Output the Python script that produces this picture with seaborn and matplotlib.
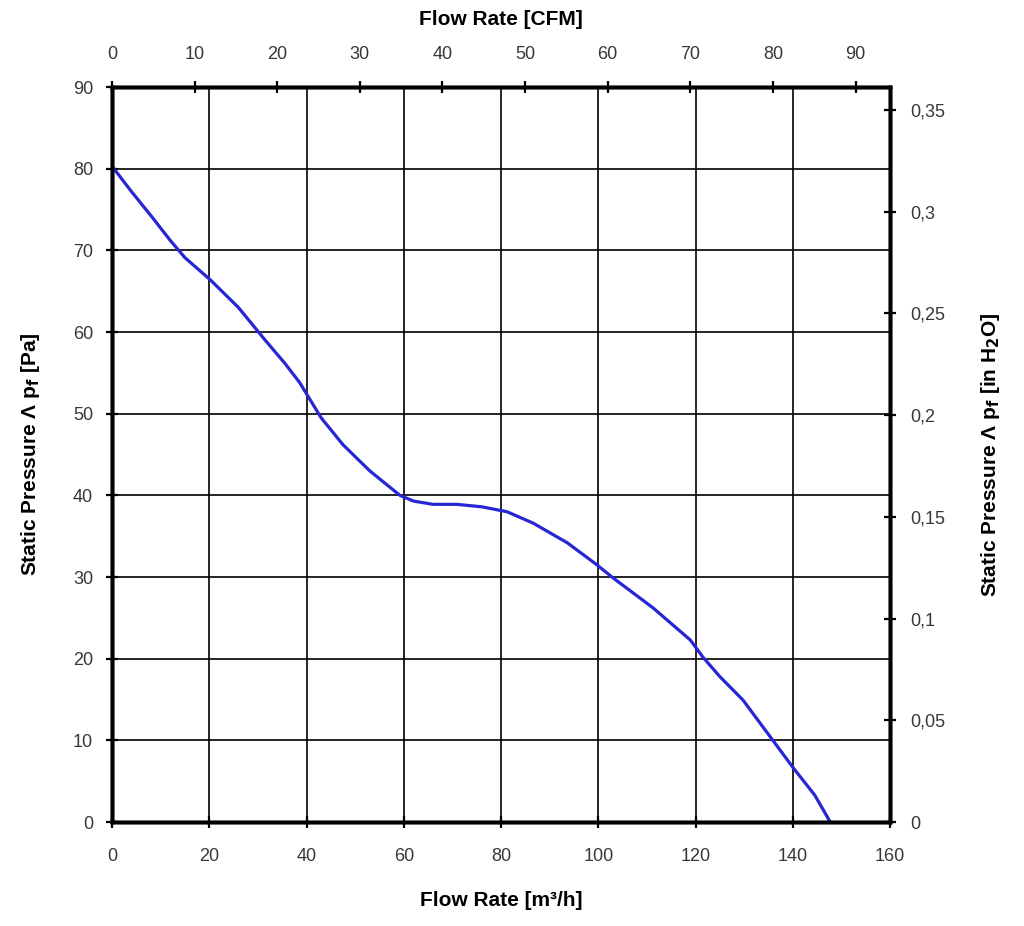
"""Fan curve: static pressure vs flow rate, with CFM / inH2O secondary axes."""

import matplotlib
matplotlib.use("Agg")
import matplotlib.pyplot as plt
import numpy as np
import pandas as pd
import seaborn as sns

# Curve (m3/h, Pa)
FLOW_M3H = [0, 4.0, 8.2, 12.0, 15.0, 20.2, 26.0, 31.5, 35.5, 38.6, 43.0, 47.5, 53.0,
            59.2, 62.0, 66.0, 70.9, 76.0, 81.2, 86.6, 93.6, 99.7, 102.8, 111.3,
            118.9, 121.5, 125.0, 129.8, 135.9, 140.0, 144.5, 147.7]
PRESSURE_PA = [80.3, 77.2, 74.1, 71.2, 69.1, 66.4, 63.0, 59.0, 56.2, 53.8, 49.5, 46.2,
               43.0, 40.0, 39.3, 38.9, 38.9, 38.6, 38.0, 36.6, 34.2, 31.5, 30.0, 26.2,
               22.3, 20.2, 17.8, 14.9, 10.0, 6.7, 3.3, 0.0]

X_TICKS = list(range(0, 161, 20))
Y_TICKS = list(range(0, 91, 10))
CFM_TICKS = list(range(0, 91, 10))
INH2O_TICKS = [0, 0.05, 0.1, 0.15, 0.2, 0.25, 0.3, 0.35]

M3H_PER_CFM = 1.69901
PA_PER_INH2O = 249.089

LINE_COLOR = "#2626d4"
TICK_TEXT = "#383838"

sns.set_style("ticks")
plt.rcParams["font.family"] = ["Liberation Sans", "DejaVu Sans"]
plt.rcParams["text.color"] = "black"
plt.rcParams["axes.labelcolor"] = "black"
plt.rcParams["xtick.color"] = "black"
plt.rcParams["ytick.color"] = "black"
plt.rcParams["axes.edgecolor"] = "black"

df = pd.DataFrame({"flow": FLOW_M3H, "pressure": PRESSURE_PA})

fig = plt.figure(figsize=(10.24, 9.26), dpi=100)
ax = fig.add_axes([0.1094, 0.1123, 0.7598, 0.7937])

sns.lineplot(data=df, x="flow", y="pressure", color=LINE_COLOR, linewidth=2.3, ax=ax)

TICK_KW = dict(labelsize=13, length=8, width=1.6, direction="inout", labelcolor=TICK_TEXT)

ax.set_xlim(0, 160)
ax.set_ylim(0, 90)
ax.set_xticks(X_TICKS)
ax.set_yticks(Y_TICKS)
ax.grid(True, color="black", linewidth=1.2)
ax.set_axisbelow(True)
for sp in ax.spines.values():
    sp.set_visible(True)
    sp.set_linewidth(2.5)
ax.tick_params(axis="x", pad=14.7, **TICK_KW)
ax.tick_params(axis="y", pad=9.7, **TICK_KW)
ax.set_xlabel("Flow Rate [m³/h]", fontsize=15, fontweight="bold", labelpad=19)
ax.set_ylabel("Static Pressure Λ p$_\\mathbf{f}$ [Pa]", fontsize=15,
              fontweight="bold", labelpad=22)

# top axis: CFM
top = ax.twiny()
top.set_xlim(0, 160 / M3H_PER_CFM)
top.set_xticks(CFM_TICKS)
top.tick_params(axis="x", pad=13.3, **TICK_KW)
top.set_xlabel("Flow Rate [CFM]", fontsize=15, fontweight="bold", labelpad=15)

# right axis: inch H2O
right = ax.twinx()
right.set_ylim(0, 90 / PA_PER_INH2O)
right.set_yticks(INH2O_TICKS)
right.set_yticklabels([("%g" % v).replace(".", ",") for v in INH2O_TICKS])
right.tick_params(axis="y", pad=10.4, **TICK_KW)
right.set_ylabel("Static Pressure Λ p$_\\mathbf{f}$ [in H$_\\mathbf{2}$O]", fontsize=15,
                 fontweight="bold", labelpad=24)

for a in (top, right):
    for sp in a.spines.values():
        sp.set_linewidth(2.5)

fig.savefig("out.png", dpi=100)
